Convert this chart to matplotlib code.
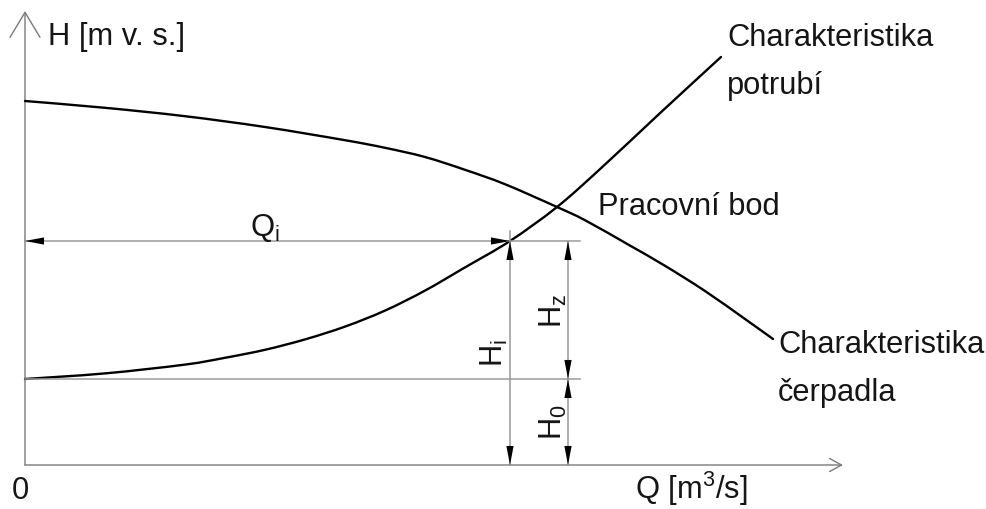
import matplotlib
matplotlib.use("Agg")
import numpy as np
import matplotlib.pyplot as plt
from matplotlib.patches import FancyArrowPatch, PathPatch
from matplotlib.path import Path

plt.rcParams['font.family'] = ['Liberation Sans', 'DejaVu Sans']
plt.rcParams['mathtext.fontset'] = 'custom'
plt.rcParams['mathtext.rm'] = 'Liberation Sans'
plt.rcParams['mathtext.it'] = 'Liberation Sans:italic'
plt.rcParams['mathtext.default'] = 'regular'

# ---- data (arbitrary units) ----
Q_pump = [0, 2, 4, 6, 8, 9, 10, 11, 12, 13.3, 14, 15.1, 16, 17, 18, 18.7]
H_pump = [9.1, 8.93, 8.72, 8.45, 8.12, 7.93, 7.7, 7.38, 7.02, 6.45, 6.12, 5.5, 4.98, 4.35, 3.65, 3.15]

Q_pipe = [0, 2, 4, 5, 6, 7, 8, 9, 10, 11, 12.125, 13.3, 14.4, 15.9, 17.4]
H_pipe = [2.15, 2.29, 2.51, 2.68, 2.88, 3.14, 3.46, 3.86, 4.36, 4.94, 5.6, 6.45, 7.42, 8.82, 10.2]

Q_i = 12.125      # operating flow marked on the chart
H_i = 5.6         # pipe head at Q_i
H_0 = 2.15        # static head
Q_dim = 13.575    # position of the Hz / H0 dimension
Q_ext = 13.875    # end of extension lines
Q_axis_max = 20.45
H_axis_max = 11.35

labels = {
    'y_axis': 'H [m v. s.]',
    'x_axis': 'Q [m$^{3}$/s]',
    'origin': '0',
    'pipe': ['Charakteristika', 'potrubí'],
    'pump': ['Charakteristika', 'čerpadla'],
    'point': 'Pracovní bod',
    'Qi': '$Q_{i}$', 'Hi': '$H_{i}$', 'Hz': '$H_{z}$', 'H0': '$H_{0}$',
}

FS = 22.2
TXT = '#151515'
GRAY = '#9a9a9a'
AXC = '#7a7a7a'

fig = plt.figure(figsize=(9.87, 5.10), dpi=100)
ax = fig.add_axes([0, 0, 1, 1])
ax.set_xlim(-0.625, 24.05)
ax.set_ylim(-1.1, 11.65)
ax.axis('off')

# axes with open arrow heads
ax.add_patch(FancyArrowPatch((0, 0), (0, H_axis_max),
                             arrowstyle='->,head_length=18,head_width=10.8',
                             mutation_scale=1, color=AXC, lw=1.0,
                             shrinkA=0, shrinkB=0))
ax.add_patch(FancyArrowPatch((0, 0), (Q_axis_max, 0),
                             arrowstyle='->,head_length=8.6,head_width=4.7',
                             mutation_scale=1, color=AXC, lw=1.0,
                             shrinkA=0, shrinkB=0))

# extension / dimension lines (gray)
ax.plot([0, Q_ext], [H_i, H_i], color=GRAY, lw=1.1)
ax.plot([0, Q_ext], [H_0, H_0], color=GRAY, lw=1.1)
ax.plot([Q_i, Q_i], [0, H_i + 0.25], color=GRAY, lw=1.1)
ax.plot([Q_dim, Q_dim], [0, H_i], color=GRAY, lw=1.1)


def smooth_curve(xs, ys, **kw):
    """Draw a smooth (Catmull-Rom as cubic Bezier) curve through the points."""
    p = np.column_stack([xs, ys]).astype(float)
    n = len(p)
    verts = [p[0]]
    codes = [Path.MOVETO]
    for i in range(n - 1):
        p0 = p[i - 1] if i > 0 else p[i]
        p1, p2 = p[i], p[i + 1]
        p3 = p[i + 2] if i + 2 < n else p[i + 1]
        c1 = p1 + (p2 - p0) / 6.0
        c2 = p2 - (p3 - p1) / 6.0
        verts += [c1, c2, p2]
        codes += [Path.CURVE4] * 3
    ax.add_patch(PathPatch(Path(verts, codes), fill=False, **kw))


# characteristic curves
smooth_curve(Q_pump, H_pump, edgecolor='black', lw=1.7, capstyle='round')
smooth_curve(Q_pipe, H_pipe, edgecolor='black', lw=1.7, capstyle='round')


def dim_heads(p0, p1):
    ax.add_patch(FancyArrowPatch(p0, p1,
                                 arrowstyle='<|-|>,head_length=13.7,head_width=2.6',
                                 mutation_scale=1, fc='black', ec='black', lw=0,
                                 shrinkA=0, shrinkB=0, zorder=3))


dim_heads((0, H_i), (Q_i, H_i))
dim_heads((Q_i, 0), (Q_i, H_i))
dim_heads((Q_dim, H_0), (Q_dim, H_i))
dim_heads((Q_dim, 0), (Q_dim, H_0))

kw = dict(fontsize=FS, color=TXT, ha='left', va='baseline')
ax.text(0.575, 10.525, labels['y_axis'], **kw)
ax.text(-0.325, -0.825, labels['origin'], **kw)
ax.text(15.25, -0.82, labels['x_axis'], **kw)
ax.text(17.55, 10.51, labels['pipe'][0], **kw)
ax.text(17.55, 9.29, labels['pipe'][1], **kw)
ax.text(18.825, 2.83, labels['pump'][0], **kw)
ax.text(18.825, 1.63, labels['pump'][1], **kw)
ax.text(14.325, 6.275, labels['point'], **kw)
ax.text(6.0, 5.75, labels['Qi'], fontsize=FS, color=TXT, ha='center', va='baseline')

rk = dict(fontsize=FS, color=TXT, rotation=90, rotation_mode='anchor',
          ha='left', va='baseline')
ax.text(11.95, 2.475, labels['Hi'], **rk)
ax.text(13.425, 3.45, labels['Hz'], **rk)
ax.text(13.425, 0.65, labels['H0'], **rk)

fig.savefig('out.png', dpi=100)
